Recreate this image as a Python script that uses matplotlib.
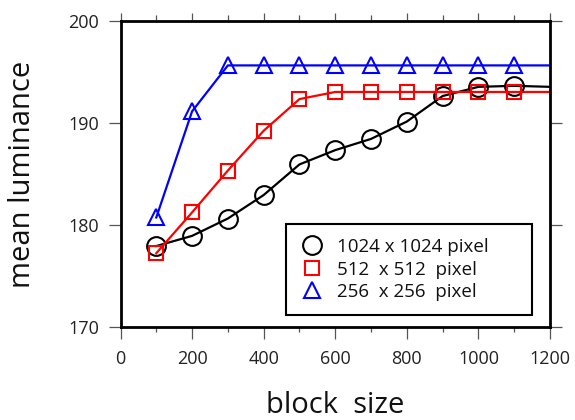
import matplotlib
matplotlib.use("Agg")
import matplotlib.pyplot as plt
from matplotlib.ticker import MultipleLocator

plt.rcParams['font.family'] = ['Open Sans', 'DejaVu Sans']

# block sizes; the last point (1200) only carries the line to the frame edge
block_size = [100, 200, 300, 400, 500, 600, 700, 800, 900, 1000, 1100, 1200]

lum_1024 = [177.9, 178.9, 180.6, 182.9, 185.9, 187.3, 188.4, 190.1, 192.6, 193.5, 193.6, 193.5]
lum_512 = [177.2, 181.2, 185.3, 189.2, 192.3, 193.0, 193.0, 193.0, 193.0, 193.0, 193.0, 193.0]
lum_256 = [180.7, 191.1, 195.6, 195.6, 195.6, 195.6, 195.6, 195.6, 195.6, 195.6, 195.6, 195.6]

labels = ["1024 x 1024 pixel", "512  x 512  pixel", "256  x 256  pixel"]

W, H = 575, 420
fig = plt.figure(figsize=(W / 100, H / 100), dpi=100)
ax = fig.add_axes([120.5 / W, 1 - 326.7 / H, (550 - 120.5) / W, (326.7 - 20.5) / H])

marks = slice(0, -1)
ax.plot(block_size, lum_1024, color='black', lw=1.6, marker='o', ms=13.5,
        mfc='none', mec='black', mew=1.5, markevery=marks, label=labels[0])
ax.plot(block_size, lum_512, color='#ff0000', lw=1.6, marker='s', ms=9.5,
        mfc='none', mec='#ff0000', mew=1.5, markevery=marks, label=labels[1])
ax.plot(block_size, lum_256, color='#0000ff', lw=1.6, marker='^', ms=12,
        mfc='none', mec='#0000ff', mew=1.5, markevery=marks, label=labels[2])

ax.set_xlim(0, 1200)
ax.set_ylim(170, 200)
ax.xaxis.set_major_locator(MultipleLocator(200))
ax.xaxis.set_minor_locator(MultipleLocator(100))
ax.yaxis.set_major_locator(MultipleLocator(10))

for s in ax.spines.values():
    s.set_linewidth(2.0)
    s.set_color('black')

ax.tick_params(axis='both', which='major', direction='out', length=8.6, width=0.9,
               color='#555555', labelsize=13, labelcolor='#222222')
ax.tick_params(axis='x', which='major', pad=8)
ax.tick_params(axis='y', which='major', pad=7)
ax.tick_params(axis='x', which='minor', direction='out', length=3.6, width=0.9,
               color='#555555')
ax.tick_params(axis='y', which='both', right=True, labelright=False)

# top frame ticks, shorter than the bottom ones
top = ax.secondary_xaxis('top')
top.xaxis.set_major_locator(MultipleLocator(200))
top.xaxis.set_minor_locator(MultipleLocator(100))
top.tick_params(which='major', direction='out', length=5, width=0.9,
                color='#555555', labeltop=False)
top.tick_params(which='minor', direction='out', length=3.6, width=0.9,
                color='#555555')
top.spines['top'].set_visible(False)

fig.text(335 / W, 1 - 413 / H, "block  size", fontsize=21, ha='center',
         va='baseline', color='#111111')
fig.text(23 / W, 1 - 174.5 / H, "mean luminance", fontsize=21, ha='center',
         va='center', rotation=90, color='#111111')

leg = ax.legend(loc='lower left', bbox_to_anchor=(0.385, 0.038, 0.573, 0.3),
                mode='expand', borderaxespad=0, fontsize=13.5,
                frameon=True, fancybox=False, edgecolor='black', framealpha=1,
                handlelength=1.33, handletextpad=0.66, borderpad=0.75,
                labelspacing=0.24)
leg.get_frame().set_linewidth(1.5)
for h in leg.legend_handles:
    h.set_linestyle('none')
for t in leg.get_texts():
    t.set_color('#111111')

fig.savefig("out.png", dpi=100)
